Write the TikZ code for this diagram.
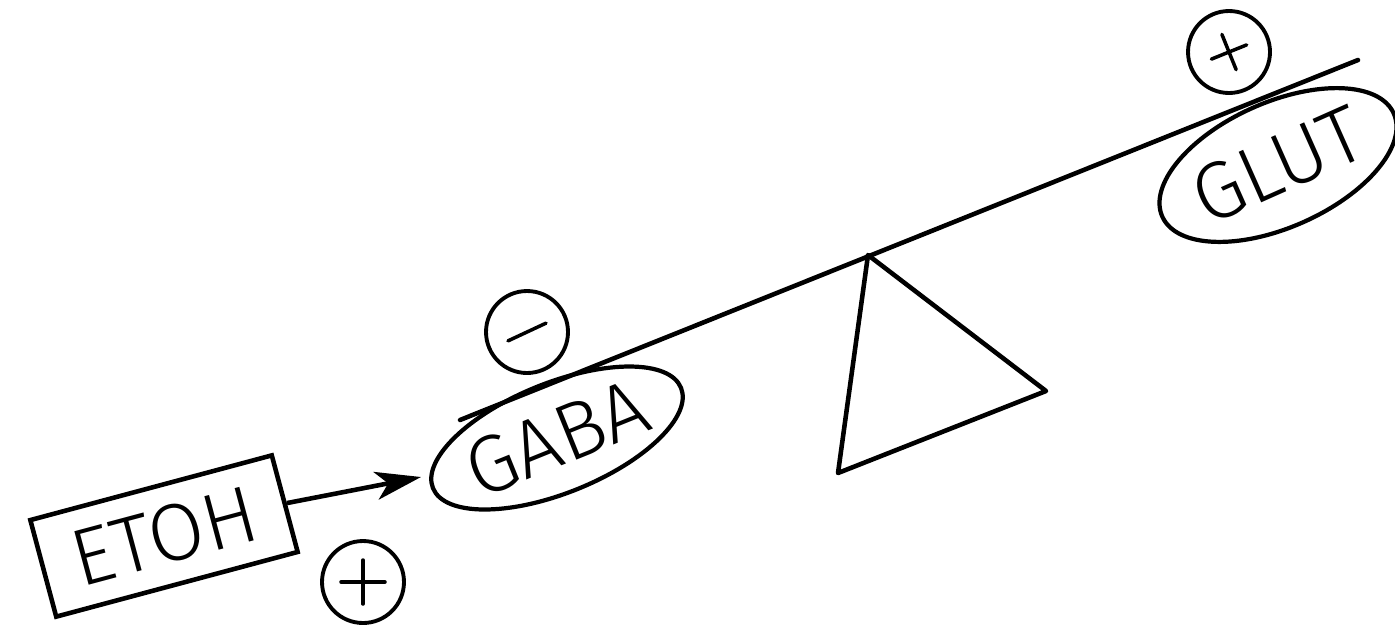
\documentclass[tikz,border=0pt]{standalone}
\usepackage{fontspec}
\newfontfamily\hand{Fira Sans Light}
\usetikzlibrary{shapes.geometric,arrows.meta,calc}
\begin{document}
\begin{tikzpicture}[x=0.02cm,y=-0.02cm,
  ln/.style={line width=2.6pt,line join=round,line cap=round},
  oval/.style={ellipse,draw,line width=2.4pt,inner sep=0pt,font=\hand\fontsize{46}{46}\selectfont},
  sign/.style={circle,draw,line width=2.2pt,minimum size=1.64cm,inner sep=0pt},
  stroke/.style={line width=2pt,line cap=round},
  boxed/.style={rectangle,draw,line width=2.6pt,minimum width=5cm,minimum height=2cm,inner sep=0pt,font=\hand\fontsize{46}{46}\selectfont}]
\useasboundingbox (0,0) rectangle (1395,627);
% beam and fulcrum
\coordinate (bl) at (460,420);
\coordinate (br) at (1358,60);
\coordinate (apex) at (868,255);
\coordinate (tl) at (838,473);
\coordinate (tr) at (1046,391);
\draw[ln] (bl) -- (br);
\draw[ln] (apex) -- (tl) -- (tr) -- cycle;
% ovals
\node[oval,rotate=22,minimum width=5cm,minimum height=2.2cm] (gaba) at (557,438) {GABA};
\node[oval,rotate=24,minimum width=5cm,minimum height=2.5cm] (glut) at (1278,165) {GLUT};
% sign circles
\node[sign] (minus) at (527,332) {};
\draw[stroke,rotate around={25:(minus.center)}] ($(minus.center)+(-21,0)$) -- ($(minus.center)+(21,0)$);
\node[sign] (plustop) at (1229,52) {};
\draw[stroke,rotate around={22:(plustop.center)}] ($(plustop.center)+(-19,0)$) -- ($(plustop.center)+(19,0)$)
  ($(plustop.center)+(0,-19)$) -- ($(plustop.center)+(0,19)$);
\node[sign] (plusbot) at (363,582) {};
\draw[stroke] ($(plusbot.center)+(-22,0)$) -- ($(plusbot.center)+(22,0)$)
  ($(plusbot.center)+(0,-22)$) -- ($(plusbot.center)+(0,22)$);
% ETOH
\node[boxed,rotate=15] (etoh) at (164,536) {ETOH};
\coordinate (gtip) at (421,477);
\draw[line width=2.6pt,-{Stealth[length=26pt,width=16pt,inset=7pt]}] (etoh.east) -- (gtip);
\end{tikzpicture}
\end{document}
